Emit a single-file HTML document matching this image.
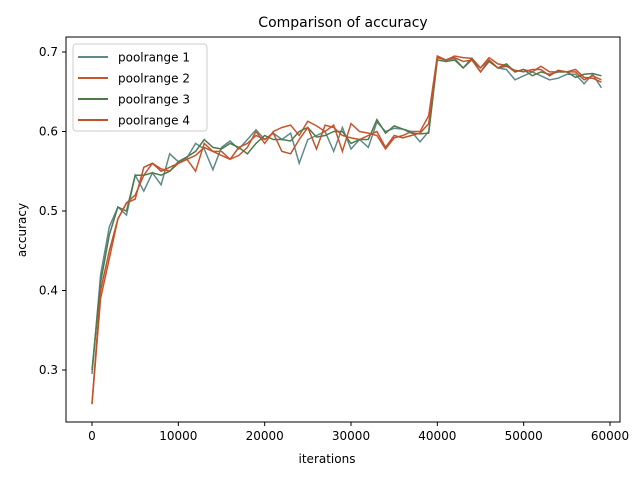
<!DOCTYPE html>
<html><head><meta charset="utf-8"><style>
body{margin:0;background:#fff}
svg{font-family:"DejaVu Sans","Liberation Sans",sans-serif}
</style></head><body>
<svg id="chart" width="640" height="480" viewBox="0 0 640 480">
<rect width="640" height="480" fill="#fff"/>
<text x="343" y="27" font-size="14" text-anchor="middle">Comparison of accuracy</text>
<text x="327" y="463" font-size="12" text-anchor="middle">iterations</text>
<text transform="translate(26,230) rotate(-90)" font-size="12" text-anchor="middle">accuracy</text>
<g id="ticks"></g>
<g id="lines"></g>
<rect x="66" y="37" width="554" height="385" fill="none" stroke="#000" stroke-width="1"/>
<g id="legend"></g>
</svg>
<script>
const xTicks=[0,10000,20000,30000,40000,50000,60000];
const yTicks=[0.3,0.4,0.5,0.6,0.7];
const seriesNames=["poolrange 1","poolrange 2","poolrange 3","poolrange 4"];
const seriesColors=["#5f8a8b","#c8552f","#4e7a4a","#c0532c"];
const iterationStep=1000;
const s1=[0.295,0.42,0.48,0.505,0.495,0.545,0.525,0.548,0.533,0.572,0.562,0.567,0.585,0.578,0.552,0.58,0.588,0.578,0.59,0.602,0.59,0.598,0.59,0.598,0.56,0.59,0.595,0.6,0.575,0.605,0.578,0.59,0.58,0.612,0.6,0.604,0.603,0.6,0.587,0.6,0.693,0.69,0.692,0.68,0.69,0.68,0.69,0.68,0.678,0.665,0.67,0.675,0.67,0.665,0.667,0.672,0.672,0.66,0.672,0.655];
const s2=[0.257,0.39,0.44,0.49,0.51,0.52,0.545,0.56,0.553,0.55,0.56,0.565,0.55,0.585,0.575,0.575,0.565,0.57,0.58,0.6,0.585,0.6,0.605,0.608,0.595,0.613,0.607,0.6,0.608,0.575,0.61,0.6,0.598,0.595,0.578,0.592,0.595,0.6,0.6,0.62,0.695,0.69,0.695,0.693,0.692,0.68,0.693,0.685,0.683,0.675,0.678,0.675,0.682,0.675,0.675,0.675,0.675,0.665,0.67,0.665];
const s3=[0.3,0.41,0.47,0.505,0.5,0.545,0.545,0.548,0.545,0.55,0.562,0.568,0.575,0.59,0.58,0.578,0.585,0.58,0.572,0.585,0.595,0.59,0.59,0.588,0.6,0.605,0.593,0.595,0.6,0.6,0.585,0.59,0.59,0.615,0.598,0.607,0.603,0.598,0.597,0.598,0.69,0.688,0.69,0.68,0.692,0.675,0.688,0.68,0.685,0.675,0.678,0.67,0.675,0.672,0.675,0.675,0.668,0.672,0.673,0.67];
const s4=[0.258,0.4,0.45,0.49,0.51,0.515,0.555,0.56,0.55,0.555,0.56,0.565,0.57,0.58,0.575,0.57,0.565,0.58,0.585,0.595,0.59,0.598,0.575,0.572,0.59,0.605,0.578,0.608,0.605,0.595,0.592,0.59,0.595,0.6,0.58,0.595,0.592,0.595,0.598,0.61,0.693,0.69,0.693,0.688,0.69,0.675,0.69,0.68,0.682,0.677,0.675,0.678,0.678,0.67,0.677,0.675,0.678,0.668,0.667,0.662];
const allSeries=[s1,s2,s3,s4];
const NS="http://www.w3.org/2000/svg";
function xs(v){return 92+v*(518/60000);}
function ys(v){return 370-(v-0.3)*795;}
function mk(tag,attrs,parent){const e=document.createElementNS(NS,tag);for(const k in attrs)e.setAttribute(k,attrs[k]);parent.appendChild(e);return e;}
const tg=document.getElementById('ticks');
xTicks.forEach(t=>{
  const l=mk('line',{x1:xs(t),x2:xs(t),y1:422,y2:426,stroke:'#000'},tg);
  
  
  const tx=mk('text',{x:xs(t),y:440,'font-size':12,'text-anchor':'middle'},tg);
  tx.textContent=String(t);
  
  
});
yTicks.forEach(t=>{
  const l=mk('line',{x1:62,x2:66,y1:ys(t),y2:ys(t),stroke:'#000'},tg);
  
  
  const tx=mk('text',{x:58,y:ys(t)+4,'font-size':12,'text-anchor':'end'},tg);
  tx.textContent=t.toFixed(1);
  
  
});
const lg=document.getElementById('lines');
allSeries.forEach((s,i)=>{
  const pts=s.map((v,j)=>xs(j*iterationStep).toFixed(1)+','+ys(v).toFixed(1)).join(' ');
  const p=mk('polyline',{points:pts,fill:'none',stroke:seriesColors[i],'stroke-width':1.5},lg);
  
  
});
const leg=document.getElementById('legend');
const box=mk('rect',{x:73,y:44,width:134,height:87,rx:3,fill:'#fff','fill-opacity':0.8,stroke:'#ccc'},leg);


seriesNames.forEach((n,i)=>{
  const y=57+i*21;
  const l=mk('line',{x1:78,x2:108,y1:y,y2:y,stroke:seriesColors[i],'stroke-width':2},leg);
  
  
  const t=mk('text',{x:118,y:y+4.5,'font-size':12},leg);
  t.textContent=n;
  
  
});
</script>
</body></html>
